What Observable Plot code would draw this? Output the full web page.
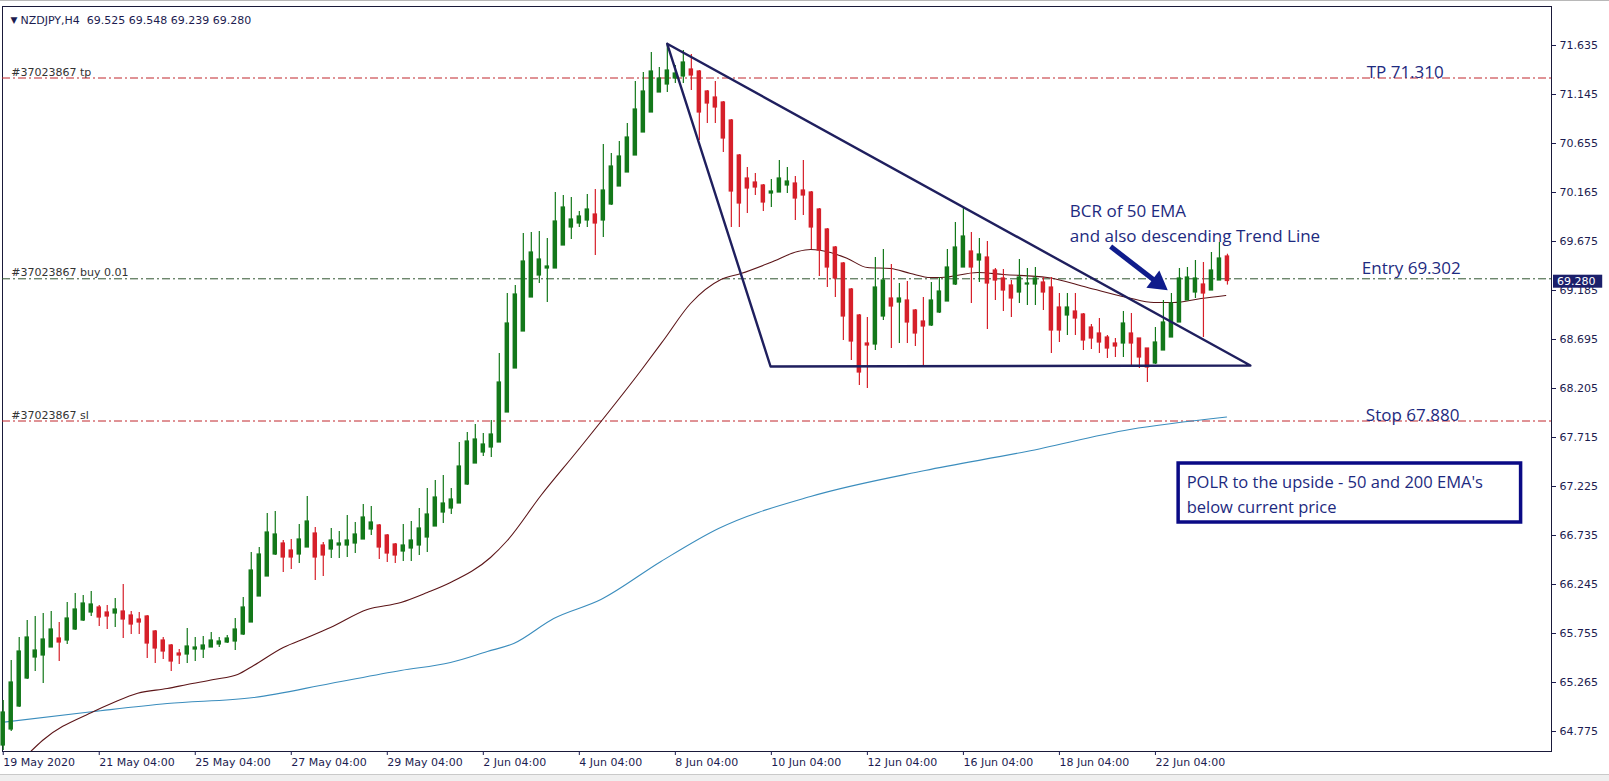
<!DOCTYPE html>
<html><head><meta charset="utf-8">
<script src="https://cdn.jsdelivr.net/npm/d3@7"></script>
<script src="https://cdn.jsdelivr.net/npm/@observablehq/plot@0.6"></script>
<style>
html,body{margin:0;padding:0;background:#fff;overflow:hidden;}
#chart{position:relative;width:1609px;height:781px;overflow:hidden;}
#chart svg{display:block;}
#topline{position:absolute;left:0;top:0;width:1609px;height:1px;background:#b8b8b8;}
#bottomband{position:absolute;left:0;top:774px;width:1609px;height:7px;background:#efefef;border-top:1px solid #c9c9c9;}
</style></head><body><div id="chart"></div>
<script>
// ---- Data (NZDJPY H4 candles, index = bar number) ----
const opens = [64.635,64.795,65.025,65.305,65.515,65.535,65.615,65.705,65.685,65.795,
65.885,65.965,66.015,65.965,65.955,65.975,65.935,65.895,65.925,65.775,
65.685,65.635,65.555,65.545,65.595,65.595,65.615,65.645,65.665,65.675,
65.745,65.865,66.125,66.325,66.545,66.655,66.585,66.545,66.615,66.755,
66.635,66.595,66.635,66.635,66.655,66.695,66.795,66.835,66.735,66.645,
66.575,66.605,66.635,66.715,66.825,66.965,67.005,67.055,67.245,67.455,
67.565,67.615,67.665,67.965,68.405,68.775,69.115,69.335,69.405,69.405,
69.635,69.815,69.855,69.885,69.945,69.885,70.045,70.225,70.365,70.535,
70.765,70.965,71.165,71.245,71.305,71.325,71.395,71.375,71.175,71.115,
71.065,70.885,70.535,70.305,70.265,70.235,70.155,70.165,70.235,70.255,
70.185,70.165,69.995,69.795,69.615,69.455,69.195,68.935,68.655,68.645,
68.925,69.105,69.065,69.085,68.985,68.875,68.835,68.965,69.075,69.245,
69.415,69.575,69.485,69.515,69.385,69.305,69.235,69.165,69.245,69.245,
69.265,69.215,69.015,68.935,68.975,68.945,68.815,68.755,68.715,68.655,
68.655,68.755,68.705,68.605,68.455,68.585,68.715,68.865,69.085,69.165,
69.245,69.185,69.285,69.525];
const highs = [65.085,65.485,65.715,65.885,65.925,65.955,65.975,65.865,66.065,66.155,
66.135,66.175,66.035,66.035,66.105,66.245,65.975,65.965,65.935,65.785,
65.715,65.645,65.595,65.805,65.715,65.725,65.765,65.715,65.735,65.905,
66.115,66.565,66.615,66.955,66.975,66.685,66.695,66.845,67.125,66.815,
66.665,66.805,66.775,66.935,66.865,67.045,67.025,66.845,66.745,66.655,
66.845,66.875,67.005,67.205,67.285,67.335,67.205,67.665,67.765,67.845,
67.755,67.885,68.555,69.155,69.235,69.755,69.765,69.775,69.705,70.165,
70.135,70.115,69.975,70.145,70.195,70.645,70.555,70.675,70.855,71.275,
71.365,71.565,71.415,71.655,71.435,71.585,71.545,71.385,71.185,71.275,
71.075,70.895,70.545,70.415,70.355,70.245,70.295,70.485,70.415,70.325,
70.485,70.175,70.005,69.805,69.625,69.465,69.205,68.945,68.915,69.515,
69.595,69.445,69.255,69.275,68.995,69.115,69.265,69.315,69.595,69.865,
70.015,69.765,69.705,69.675,69.405,69.395,69.285,69.495,69.405,69.415,
69.315,69.315,69.155,69.155,69.155,68.955,68.845,68.905,68.735,68.705,
68.975,68.955,68.705,68.605,68.815,69.085,69.155,69.405,69.415,69.485,
69.465,69.565,69.665,69.548];
const lows = [64.585,64.775,65.015,65.295,65.375,65.255,65.615,65.475,65.645,65.785,
65.875,65.925,65.825,65.795,65.815,65.705,65.745,65.745,65.505,65.455,
65.495,65.375,65.445,65.455,65.475,65.505,65.615,65.615,65.655,65.585,
65.735,65.865,66.125,66.325,66.535,66.365,66.395,66.455,66.615,66.285,
66.325,66.505,66.505,66.515,66.555,66.695,66.735,66.495,66.465,66.455,
66.475,66.475,66.535,66.565,66.825,66.855,66.945,67.055,67.235,67.455,
67.525,67.515,67.665,67.965,68.405,68.775,69.115,69.255,69.065,69.405,
69.635,69.695,69.815,69.815,69.535,69.715,70.035,70.225,70.365,70.535,
70.765,70.965,71.165,71.165,71.255,71.255,71.185,70.685,70.855,70.855,
70.565,69.815,69.815,69.955,70.135,69.975,70.015,70.165,70.155,69.885,
69.935,69.595,69.325,69.215,69.115,68.685,68.485,68.235,68.205,68.585,
68.885,68.605,68.655,68.655,68.625,68.425,68.825,68.955,69.075,69.235,
69.415,69.055,69.265,68.795,69.085,68.975,68.915,69.055,69.035,69.035,
68.985,68.555,68.665,68.735,68.735,68.585,68.595,68.555,68.505,68.515,
68.515,68.415,68.405,68.265,68.445,68.585,68.715,68.865,69.085,69.105,
68.715,69.185,69.285,69.239];
const closes = [64.965,65.265,65.575,65.715,65.585,65.695,65.795,65.665,65.905,65.995,
66.055,66.045,65.915,65.925,65.995,65.895,65.845,65.865,65.655,65.605,
65.575,65.475,65.535,65.625,65.615,65.635,65.685,65.675,65.705,65.795,
66.015,66.385,66.545,66.765,66.745,66.515,66.515,66.695,66.875,66.515,
66.535,66.685,66.655,66.685,66.745,66.915,66.865,66.615,66.555,66.535,
66.635,66.685,66.805,66.945,67.115,67.055,67.095,67.425,67.675,67.695,
67.645,67.745,68.265,68.855,69.145,69.475,69.565,69.495,69.425,69.875,
70.015,69.895,69.925,69.995,69.855,70.185,70.425,70.525,70.715,70.995,
71.175,71.375,71.305,71.385,71.355,71.465,71.335,70.965,71.055,71.015,
70.705,70.175,70.055,70.205,70.215,70.065,70.175,70.305,70.275,70.105,
70.135,69.815,69.585,69.415,69.305,68.925,68.675,68.365,68.635,69.215,
69.285,69.025,69.105,68.865,68.755,68.825,69.085,69.175,69.415,69.615,
69.725,69.415,69.545,69.255,69.285,69.185,69.105,69.315,69.255,69.305,
69.165,68.785,68.785,69.015,68.905,68.685,68.705,68.665,68.605,68.625,
68.855,68.655,68.515,68.415,68.665,68.865,69.055,69.305,69.315,69.305,
69.155,69.385,69.505,69.280];

// 50 EMA and 200 EMA (bar index, price)
const ema50Idx = [3.5,4.9,11.3,13.8,16.8,20.5,23.0,26.3,29.3,31.3,35.0,38.0,40.9,45.5,49.7,53.0,55.9,60.9,63.0,67.2,71.8,79.8,82.5,85.9,89.7,92.2,95.9,99.3,100.9,103.4,105.5,108.0,110.9,113.4,115.9,117.2,121.8,125.0,130.5,135.5,140.5,143.8,146.3,149.7,152.8];
const ema50Val = [64.58,64.685,64.975,65.065,65.158,65.205,65.245,65.295,65.345,65.435,65.615,65.715,65.815,65.995,66.065,66.165,66.265,66.515,66.685,67.135,67.585,68.395,68.685,69.055,69.295,69.355,69.465,69.575,69.595,69.565,69.505,69.415,69.405,69.355,69.315,69.315,69.365,69.345,69.315,69.215,69.115,69.065,69.065,69.105,69.135];
const ema200Idx = [-0.3,11.3,20.5,31.3,40.9,49.7,55.9,60.5,63.8,68.8,74.7,82.2,89.4,100.9,115.2,127.9,140.8,152.9];
const ema200Val = [64.865,64.975,65.055,65.115,65.255,65.385,65.465,65.575,65.655,65.905,66.095,66.475,66.805,67.125,67.385,67.575,67.795,67.92];

// Triangle (bar index, price)
const triIdx = [82.98, 95.9, 155.87, 82.98];
const triVal = [71.652, 68.425, 68.435, 71.652];

// Order levels
const tpLevel = 71.310, entryLevel = 69.302, stopLevel = 67.880;
const lastPrice = 69.280;

// Axis ticks
const xTickIdx = [0,12,24,36,48,60,72,84,96,108,120,132,144];
const xTickLabels = ["19 May 2020","21 May 04:00","25 May 04:00","27 May 04:00","29 May 04:00","2 Jun 04:00","4 Jun 04:00","8 Jun 04:00","10 Jun 04:00","12 Jun 04:00","16 Jun 04:00","18 Jun 04:00","22 Jun 04:00"];
const yTicks = [71.635,71.145,70.655,70.165,69.675,69.185,68.695,68.205,67.715,67.225,66.735,66.245,65.755,65.265,64.775];

// ---- Build ----
const candles = opens.map((o,i)=>({i, o, h: highs[i], l: lows[i], c: closes[i]}));
const up = candles.filter(d=>d.c >= d.o), down = candles.filter(d=>d.c < d.o);
const ema50 = ema50Idx.map((x,k)=>({x, y: ema50Val[k]}));
const ema200 = ema200Idx.map((x,k)=>({x, y: ema200Val[k]}));
const tri = triIdx.map((x,k)=>({x, y: triVal[k]}));

const GREEN="#13781a", RED="#d6202a", NAVY="#1c1c50", LINE="#1f1f5e", BLUE="#1d2a80", ARROW="#0f1c8c";
const AF = "'Open Sans', 'Noto Sans', sans-serif";

const body = (data, fill) => Plot.rect(data, {x1: d=>d.i-0.28, x2: d=>d.i+0.28, y1: d=>Math.min(d.o,d.c), y2: d=>Math.max(d.o,d.c), fill, insetTop:-0.6, insetBottom:-0.6});
const wick = (data, stroke) => Plot.ruleX(data, {x: "i", y1: "l", y2: "h", stroke, strokeWidth: 1.2});

const chart = Plot.plot({
  width: 1609, height: 781,
  marginLeft: 2, marginRight: 58, marginTop: 6, marginBottom: 30,
  style: {fontFamily: "'DejaVu Sans', sans-serif", fontSize: "11px", background: "#fff", overflow: "visible"},
  x: {type: "linear", domain: [-0.09, 193.5], axis: null},
  y: {type: "linear", domain: [64.575, 72.025], axis: null},
  marks: [
    Plot.frame({stroke: "#1a1a3a", strokeWidth: 1}),
    // order levels
    Plot.ruleY([tpLevel], {stroke: "#c0262c", strokeWidth: 1, strokeDasharray: "8,3,2,3"}),
    Plot.ruleY([entryLevel], {stroke: "#2f552f", strokeWidth: 1, strokeDasharray: "8,3,2,3"}),
    Plot.ruleY([stopLevel], {stroke: "#c0262c", strokeWidth: 1, strokeDasharray: "8,3,2,3"}),
    Plot.text(["#37023867 tp"], {x: 1, y: tpLevel, dy: -6, textAnchor: "start", fill: "#333"}),
    Plot.text(["#37023867 buy 0.01"], {x: 1, y: entryLevel, dy: -6, textAnchor: "start", fill: "#333"}),
    Plot.text(["#37023867 sl"], {x: 1, y: stopLevel, dy: -6, textAnchor: "start", fill: "#333"}),
    // EMAs
    Plot.line(ema200, {x: "x", y: "y", stroke: "#3b8dbd", strokeWidth: 1.1, curve: "monotone-x", clip: true}),
    Plot.line(ema50, {x: "x", y: "y", stroke: "#5c1518", strokeWidth: 1.1, curve: "monotone-x", clip: true}),
    // candles
    wick(up, GREEN), wick(down, RED),
    body(up, GREEN), body(down, RED),
    // triangle
    Plot.line(tri, {x: "x", y: "y", stroke: LINE, strokeWidth: 2.4, curve: "linear"}),
    // annotations
    Plot.text(["TP 71.310"], {x: 170.4, y: tpLevel, lineAnchor: "bottom", dy: 0, textAnchor: "start", fontSize: 17, fontFamily: AF, fill: BLUE}),
    Plot.text(["Entry 69.302"], {x: 169.8, y: entryLevel, lineAnchor: "bottom", dy: -5, textAnchor: "start", fontSize: 17, fontFamily: AF, fill: BLUE}),
    Plot.text(["Stop 67.880"], {x: 170.3, y: stopLevel, lineAnchor: "bottom", dy: 0, textAnchor: "start", fontSize: 17, fontFamily: AF, fill: BLUE}),
    Plot.text(["BCR of 50 EMA"], {x: 133.3, y: 69.975, textAnchor: "start", fontSize: 17, fontFamily: AF, fill: BLUE}),
    Plot.text(["and also descending Trend Line"], {x: 133.3, y: 69.725, textAnchor: "start", fontSize: 17, fontFamily: AF, fill: BLUE}),
    Plot.link([0], {x1: 138.4, y1: 69.625, x2: 144.3, y2: 69.26, stroke: ARROW, strokeWidth: 5}),
    Plot.dot([0], {x: 144.3, y: 69.262, symbol: "triangle", r: 8, rotate: 127, fill: ARROW, stroke: "none"}),
    Plot.rect([0], {x1: 146.9, x2: 189.7, y1: 66.865, y2: 67.455, fill: "#fff", stroke: "#0a0a85", strokeWidth: 3.5}),
    Plot.text(["POLR to the upside - 50 and 200 EMA's"], {x: 147.9, y: 67.265, textAnchor: "start", fontSize: 16.5, fontFamily: AF, fill: BLUE}),
    Plot.text(["below current price"], {x: 147.9, y: 67.015, textAnchor: "start", fontSize: 16.5, fontFamily: AF, fill: BLUE}),
    // title
    Plot.text(["\u25BC"], {frameAnchor: "top-left", dx: 8, dy: 10, fontSize: 9, fill: NAVY}),
    Plot.text(["NZDJPY,H4\u00a0\u00a069.525 69.548 69.239 69.280"], {frameAnchor: "top-left", dx: 18, dy: 10, textAnchor: "start", fill: NAVY}),
    // axes
    Plot.axisY(yTicks, {anchor: "right", tickSize: 4, tickPadding: 4, tickFormat: d=>d.toFixed(3), color: NAVY}),
    Plot.axisX(xTickIdx, {anchor: "bottom", tickSize: 4, tickPadding: 3, textAnchor: "start", dx: 0, tickFormat: d=>xTickLabels[xTickIdx.indexOf(d)], color: NAVY}),
    // current price marker
    Plot.rect([0], {x1: 193.75, x2: 199.9, y1: 69.208, y2: 69.338, fill: "#1b1f6b"}),
    Plot.text([lastPrice.toFixed(3)], {x: 194.2, y: lastPrice, textAnchor: "start", fill: "#fff"})
  ]
});
const host = document.getElementById("chart");
host.appendChild(chart);
const t = document.createElement("div"); t.id = "topline"; host.appendChild(t);
const b = document.createElement("div"); b.id = "bottomband"; host.appendChild(b);
</script></body></html>
